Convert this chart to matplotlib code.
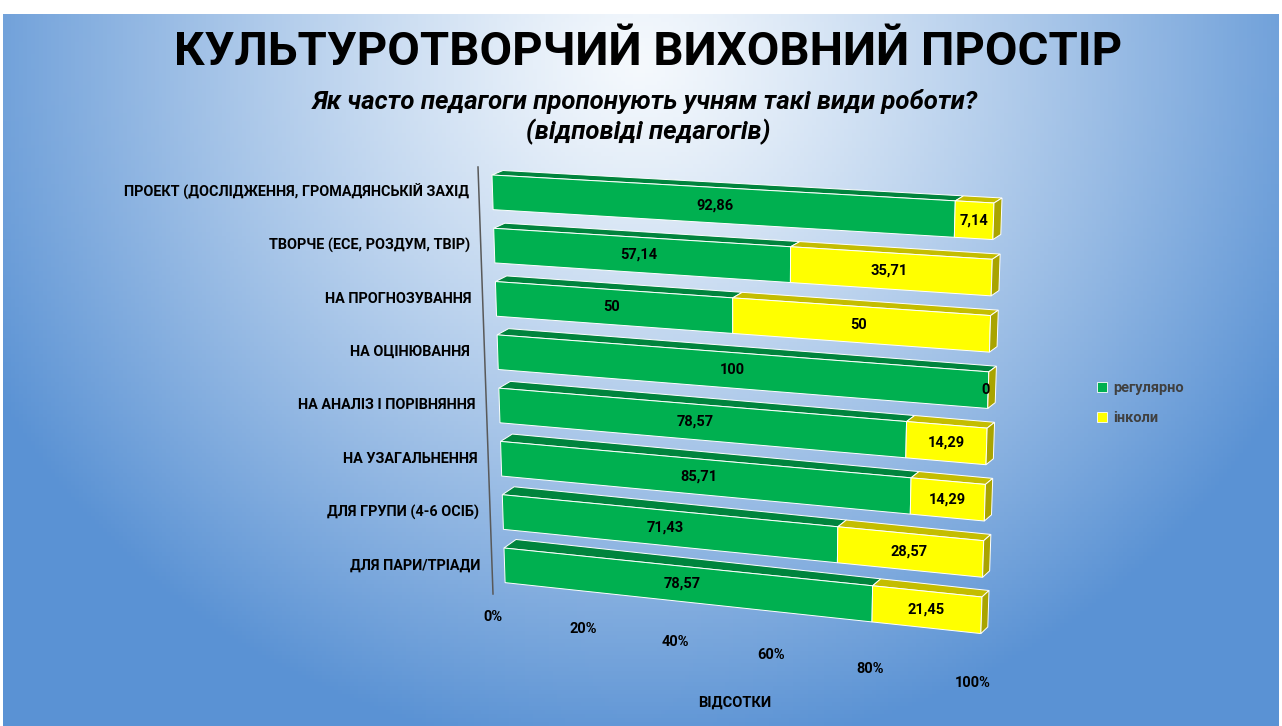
import numpy as np
import matplotlib
matplotlib.use('Agg')
import matplotlib.pyplot as plt
from matplotlib.patches import Polygon, Patch

plt.rcParams['font.family'] = ['Roboto', 'DejaVu Sans']

categories = [
    'ПРОЕКТ (ДОСЛІДЖЕННЯ, ГРОМАДЯНСЬКІЙ ЗАХІД',
    'ТВОРЧЕ (ЕСЕ, РОЗДУМ, ТВІР)',
    'НА ПРОГНОЗУВАННЯ',
    'НА ОЦІНЮВАННЯ ',
    'НА АНАЛІЗ І ПОРІВНЯННЯ',
    'НА УЗАГАЛЬНЕННЯ',
    'ДЛЯ ГРУПИ (4-6 ОСІБ)',
    'ДЛЯ ПАРИ/ТРІАДИ',
]
regular = [92.86, 57.14, 50, 100, 78.57, 85.71, 71.43, 78.57]
sometimes = [7.14, 35.71, 50, 0, 14.29, 14.29, 28.57, 21.45]
series_names = ['регулярно', 'інколи']
ticks = [0, 20, 40, 60, 80, 100]
tick_labels = ['0%', '20%', '40%', '60%', '80%', '100%']

W, H = 1282, 726
fig = plt.figure(figsize=(W / 100, H / 100), dpi=100)
fig.patch.set_facecolor('white')
ax = fig.add_axes([0, 0, 1, 1])
ax.set_xlim(0, W)
ax.set_ylim(H, 0)
ax.axis('off')

# background gradient (light at top centre, blue towards the edges)
gx, gy = np.meshgrid(np.linspace(0, W, 320), np.linspace(14, H, 180))
r = np.sqrt(((gx - 640) / 740) ** 2 + ((gy - 60) / 700) ** 2)
r = np.clip(r / 1.0, 0, 1) ** 1.2
c0 = np.array([245, 249, 253]) / 255
c1 = np.array([90, 146, 212]) / 255
img = c0[None, None, :] * (1 - r[..., None]) + c1[None, None, :] * r[..., None]
ax.imshow(img, extent=[3, W - 3, H, 14], aspect='auto', zorder=0)

# 3d perspective of the plot floor: corners of the front plane (bar 0 .. bar 7)
front = np.array([[492, 175], [994, 203], [504, 548], [982, 597]], float)
depth = np.array([[11, -4.5], [8, -5], [12, -8.5], [7, -6.5]], float)
Q = -0.08
BAR_H = 0.65
n = len(categories)


def persp(t):
    return t * (1 + Q) / (1 + Q * t)


def bilin(c, u, v):
    return (1 - u) * (1 - v) * c[0] + u * (1 - v) * c[1] + (1 - u) * v * c[2] + u * v * c[3]


def proj(x, s, back=False):
    u = persp(x / 100.0)
    v = s / (n - 1)
    p = bilin(front, u, v)
    if back:
        p = p + bilin(depth, u, v)
    return p


colors = {'front': ['#00B050', '#FFFF00'],
          'top': ['#00843D', '#C4BD00'],
          'side': ['#007A36', '#A9A400']}


def fmt(v):
    return f'{v:g}'.replace('.', ',')


for i in range(n):
    total = regular[i] + sometimes[i]
    parts = [regular[i] / total * 100, sometimes[i] / total * 100]
    vals = [regular[i], sometimes[i]]
    s0, s1 = i, i + BAR_H
    x0 = 0
    for k in range(2):
        x1 = x0 + parts[k]
        z = 10 + i * 3
        top = [proj(x0, s0), proj(x1, s0), proj(x1, s0, True), proj(x0, s0, True)]
        ax.add_patch(Polygon(top, closed=True, fc=colors['top'][k], ec='white', lw=0.7, zorder=z))
        fr = [proj(x0, s0), proj(x1, s0), proj(x1, s1), proj(x0, s1)]
        ax.add_patch(Polygon(fr, closed=True, fc=colors['front'][k], ec='white', lw=0.7, zorder=z + 1))
        if k == 1:
            side = [proj(x1, s0), proj(x1, s0, True), proj(x1, s1, True), proj(x1, s1)]
            ax.add_patch(Polygon(side, closed=True, fc=colors['side'][k], ec='white', lw=0.7, zorder=z + 1))
        cx, cy = proj((x0 + x1) / 2, (s0 + s1) / 2)
        if parts[k] == 0:
            cx -= 3
        ax.text(cx, cy, fmt(vals[k]), ha='center', va='center', fontsize=10.5,
                fontweight='bold', color='black', zorder=40)
        x0 = x1
    lx, ly = proj(0, (s0 + s1) / 2)
    ax.text(lx - 24, ly, categories[i], ha='right', va='center', fontsize=10.4,
            fontweight='bold', color='black', zorder=40)

# left wall edge
ax.plot([478, 493], [167, 594], color='#595959', lw=1.1, zorder=5)

# x tick labels along the floor
for t, lab in zip(ticks, tick_labels):
    f = persp(t / 100.0)
    ax.text(493 + 480 * f, 617 + 66 * f, lab, ha='center', va='center',
            fontsize=10.5, fontweight='bold', color='black', zorder=40)
ax.text(735, 703, 'ВІДСОТКИ', ha='center', va='center', fontsize=10.5,
        fontweight='bold', color='black')

# titles
ax.text(648, 52, 'КУЛЬТУРОТВОРЧИЙ ВИХОВНИЙ ПРОСТІР', ha='center', va='center',
        fontsize=34, fontweight='bold', color='black')
ax.text(645, 101, 'Як часто педагоги пропонують учням такі види роботи?',
        ha='center', va='center', fontsize=18.5, fontweight='bold', style='italic', color='black')
ax.text(648, 132, '(відповіді педагогів)', ha='center', va='center', fontsize=18.5,
        fontweight='bold', style='italic', color='black')

handles = [Patch(fc=colors['front'][k], ec='white', lw=0.6) for k in range(2)]
fig.legend(handles, series_names, loc='center left',
           bbox_to_anchor=(1084 / W, 1 - 403 / H), frameon=False,
           handlelength=0.7, handleheight=0.7, handletextpad=0.4, labelspacing=1.1,
           labelcolor='#404040', prop={'weight': 'bold', 'size': 10.5})

fig.savefig('out.png', dpi=100)
